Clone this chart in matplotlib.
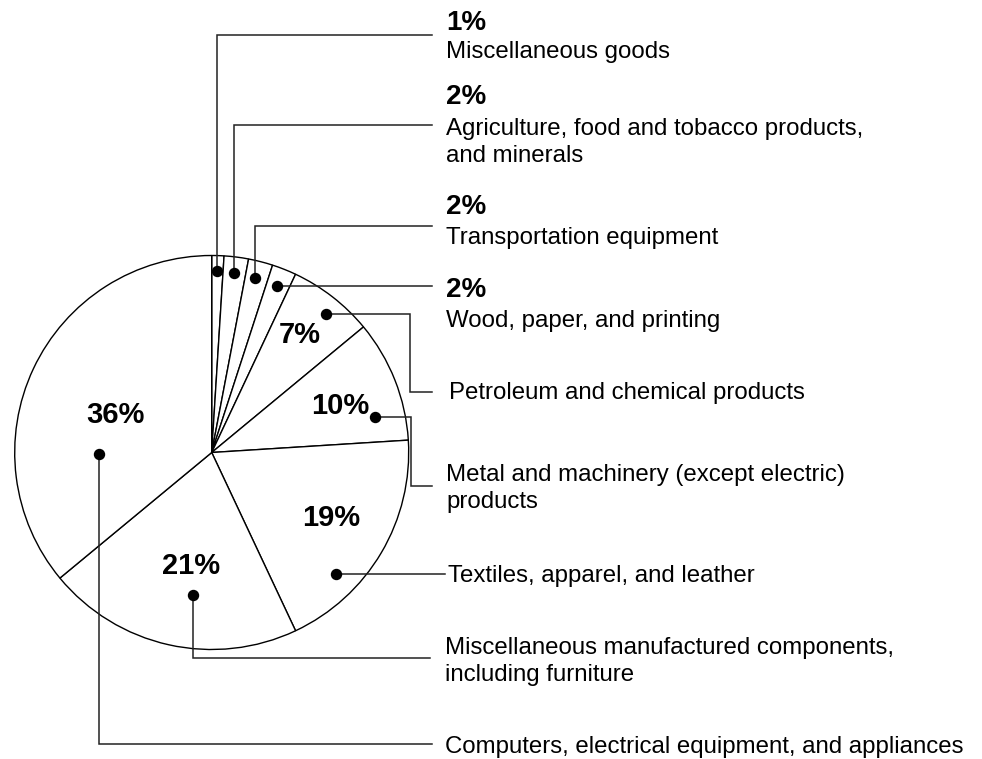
import matplotlib
matplotlib.use('Agg')
import matplotlib.pyplot as plt
import numpy as np

plt.rcParams['font.family'] = ['Liberation Sans', 'DejaVu Sans']

# shares, clockwise from 12 o'clock
values = [1, 2, 2, 2, 7, 10, 19, 21, 36]
pct_labels = [f'{v}%' for v in values]
names = [
    'Miscellaneous goods',
    'Agriculture, food and tobacco products,\nand minerals',
    'Transportation equipment',
    'Wood, paper, and printing',
    'Petroleum and chemical products',
    'Metal and machinery (except electric)\nproducts',
    'Textiles, apparel, and leather',
    'Miscellaneous manufactured components,\nincluding furniture',
    'Computers, electrical equipment, and appliances',
]

# layout (pixel space, y down)
W, H = 982, 759
cx, cy, R = 211.7, 452.5, 197
dot_frac = [0.47, 0.46, 0.44, 0.47, 0.57, 0.76, 0.70, 0.43, 0.30]
dot_r = [0.92, 0.92, 0.915, 0.91, 0.91, 0.85, 0.88, 0.73, 0.57]
in_frac = [None, None, None, None, 0.44, 0.52, 0.46, 0.47, 0.48]
in_r = [None, None, None, None, 0.755, 0.70, 0.686, 0.574, 0.53]
# leader routes: (kind, elbow x, end y, end x)
routes = [('v', None, 35, 432), ('v', None, 125, 432), ('v', None, 226, 432),
          ('h', None, None, 432), ('s', 410, 391.5, 432), ('s', 411.5, 485.5, 432),
          ('h', None, None, 445), ('v', None, 657.5, 430), ('v', None, 744, 432)]
text_x = [446, 446, 446, 446, 449, 446, 448, 445, 445]
pct_y = [30, 103.5, 214, 297]
name_y = [58, 135, 244, 327, 399.5, 481, 581.7, 654, 753]
line_gap = 27

fig = plt.figure(figsize=(W / 100, H / 100), dpi=100)
ax = fig.add_axes([0, 0, 1, 1])

wedges, _ = ax.pie(values, center=(cx, cy), radius=R, startangle=-90,
                   counterclock=True,
                   wedgeprops=dict(facecolor='white', edgecolor='black', linewidth=1.0))

lc = '#222222'
for i, w in enumerate(wedges):
    th = np.deg2rad(w.theta1 + dot_frac[i] * (w.theta2 - w.theta1))
    dx = cx + R * dot_r[i] * np.cos(th)
    dy = cy + R * dot_r[i] * np.sin(th)
    kind, xe, ye, xend = routes[i]
    if kind == 'v':
        xs, ys = [dx, dx, xend], [dy, ye, ye]
    elif kind == 'h':
        xs, ys = [dx, xend], [dy, dy]
    else:
        xs, ys = [dx, xe, xe, xend], [dy, dy, ye, ye]
    ax.plot(xs, ys, color=lc, lw=1.1, solid_joinstyle='miter', zorder=3)
    ax.plot(dx, dy, 'o', color='black', ms=7.2, zorder=4)

    if in_frac[i] is not None:
        th = np.deg2rad(w.theta1 + in_frac[i] * (w.theta2 - w.theta1))
        tx = cx + R * in_r[i] * np.cos(th)
        ty = cy + R * in_r[i] * np.sin(th)
        ax.text(tx, ty + 10.3, pct_labels[i], ha='center', va='baseline',
                fontsize=21, fontweight='bold')
    else:
        ax.text(text_x[i], pct_y[i], pct_labels[i], ha='left', va='baseline',
                fontsize=20, fontweight='bold')
    for k, line in enumerate(names[i].split('\n')):
        ax.text(text_x[i], name_y[i] + k * line_gap, line, ha='left',
                va='baseline', fontsize=17.3)

ax.set_xlim(0, W)
ax.set_ylim(H, 0)
ax.set_aspect('equal')
ax.axis('off')
fig.savefig('out.png', dpi=100, facecolor='white')
